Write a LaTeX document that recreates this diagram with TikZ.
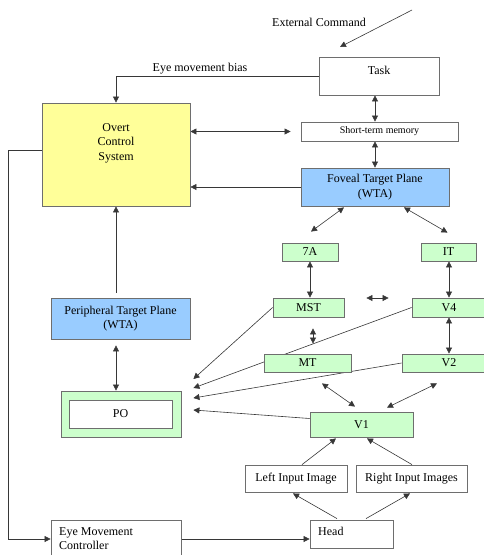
\documentclass[tikz,border=0pt]{standalone}
\usepackage{fontspec}
\setmainfont{Liberation Serif}
\usetikzlibrary{arrows.meta,calc,backgrounds}
\definecolor{ylw}{RGB}{255,255,153}
\definecolor{blu}{RGB}{153,204,255}
\definecolor{grn}{RGB}{204,255,204}
\definecolor{edgecol}{RGB}{110,110,110}
\definecolor{lncol}{RGB}{55,55,55}
\begin{document}
\begin{tikzpicture}[x=1pt,y=-1pt,
  >={Triangle[length=6pt,width=6pt]},
  box/.style={draw=edgecol, line width=0.8pt, inner sep=0pt, font=\fontsize{12}{14.5}\selectfont, align=center},
  txt/.style={inner sep=0pt, font=\fontsize{12}{14.5}\selectfont, align=center},
  arr/.style={draw=lncol, line width=0.6pt, ->},
  darr/.style={draw=lncol, line width=0.6pt, <->}]
\useasboundingbox (0,0) rectangle (483,555);
% nodes
\node[box, minimum width=120pt, minimum height=38pt] (task) at (379,76) {};
\node[txt] (tasklbl) at (379,70) {Task};
\node[box, fill=ylw, minimum width=148pt, minimum height=103pt] (overt) at (116,154.5) {};
\node[txt] (overtlbl) at (116,143) {Overt\\Control\\System};
\node[box, minimum width=157pt, minimum height=19pt, font=\fontsize{10}{12}\selectfont] (stm) at (379.5,131.5) {Short-term memory};
\node[box, fill=blu, minimum width=148pt, minimum height=38pt] (foveal) at (375,187) {Foveal Target Plane\\(WTA)};
\node[box, fill=grn, minimum width=56pt, minimum height=18pt] (sevA) at (310,252) {7A};
\node[box, fill=grn, minimum width=55pt, minimum height=18pt] (it) at (448.5,252) {IT};
\node[box, fill=grn, minimum width=71pt, minimum height=19pt] (mst) at (308.5,307.5) {MST};
\node[box, fill=grn, minimum width=74pt, minimum height=19pt] (v4) at (449,307.5) {V4};
\node[box, fill=grn, minimum width=87pt, minimum height=18pt] (mt) at (307.5,363) {MT};
\node[box, fill=grn, minimum width=94pt, minimum height=18pt] (v2) at (449,363) {V2};
\node[box, fill=grn, minimum width=103pt, minimum height=25pt] (v1) at (361.5,424.5) {V1};
\node[box, fill=blu, minimum width=139pt, minimum height=41pt] (periph) at (120.5,318.5) {Peripheral Target Plane\\(WTA)};
\node[box, fill=grn, minimum width=120pt, minimum height=46pt] (po) at (121,414) {};
\node[box, fill=white, minimum width=103pt, minimum height=28pt] (poin) at (120.5,414) {PO};
\node[box, minimum width=102pt, minimum height=27pt] (left) at (296,478.5) {Left Input Image};
\node[box, minimum width=111pt, minimum height=27pt] (right) at (411.5,478.5) {Right Input Images};
\node[box, minimum width=83pt, minimum height=28pt] (head) at (351.5,534) {};
\node[txt, anchor=west] (headlbl) at (318,531) {Head};
\node[box, minimum width=130pt, minimum height=38pt] (emc) at (116,539) {};
\node[txt, anchor=north west, align=left] (emclbl) at (59,527) {Eye Movement\\Controller};
\node[txt] (extlbl) at (319,22) {External Command};
\node[txt] (biaslbl) at (200,69) {Eye movement bias};
% connectors
\begin{pgfonlayer}{background}
\coordinate (ecs) at (412,10);
\coordinate (ece) at (340,47);
\draw[arr] (ecs) -- (ece);
\draw[arr] (task.west) -| (overt.north);
\draw[darr] ($(task.south)+(-4,0)$) -- ($(stm.north)+(-4.5,0)$);
\draw[darr] (stm.south -| foveal.north) -- (foveal.north);
\draw[darr, shorten >=10pt] (overt.east |- stm.west) -- (stm.west);
\draw[arr] (foveal.west) -- (foveal.west -| overt.east);
\draw[darr] ($(foveal.south)+(-31,1)$) -- ($(sevA.north)+(1,-11)$);
\draw[darr] ($(foveal.south)+(29,1)$) -- ($(it.north)+(-1,-10)$);
\draw[darr] (sevA.south) -- (sevA.south |- mst.north);
\draw[darr] (it.south -| v4.north) -- (v4.north);
\draw[darr] (v4.south) -- (v2.north);
\draw[darr] ($(mst.south)+(4.5,11)$) -- ($(mt.north)+(5.5,-10)$);
\draw[darr] ($(mst.east)+(22,-9.5)$) -- ($(v4.west)+(-23,-9.5)$);
\coordinate (pa) at ($(po.east)+(12,-35)$);
\coordinate (pb) at ($(po.east)+(12,-26)$);
\coordinate (pc) at ($(po.east)+(12,-16)$);
\coordinate (pd) at ($(po.east)+(12,-4)$);
\draw[arr] (mst.west) -- (pa);
\draw[arr] (v4.west) -- (pb);
\draw[arr] (v2.west) -- (pc);
\draw[arr] ($(v1.west)+(0,-6)$) -- (pd);
\draw[darr] ($(mt.south)+(14.5,11)$) -- ($(v1.north)+(-6.5,-5)$);
\draw[darr] ($(v2.south)+(-12,11)$) -- ($(v1.north)+(25.5,-4)$);
\draw[arr] ($(overt.south |- periph.north)+(0,-5)$) -- (overt.south);
\draw[darr] ($(overt.south |- periph.south)+(0,6)$) -- (overt.south |- po.north);
\draw[arr] ($(left.north)+(6,0)$) -- ($(v1.south)+(-25.5,1)$);
\draw[arr] ($(right.north)+(0.5,0)$) -- ($(v1.south)+(5.5,1)$);
\draw[arr] ($(head.north)+(-14.5,-1)$) -- ($(left.south)+(-3,1)$);
\draw[arr] ($(head.north)+(14.5,-1)$) -- ($(right.south)+(-1.5,1)$);
\draw[arr] (emc.east) -- (emc.east -| head.west);
\draw[arr] ($(overt.west)+(0,-4.5)$) -- ++(-33,0) |- (emc.west);
\end{pgfonlayer}
\end{tikzpicture}
\end{document}
